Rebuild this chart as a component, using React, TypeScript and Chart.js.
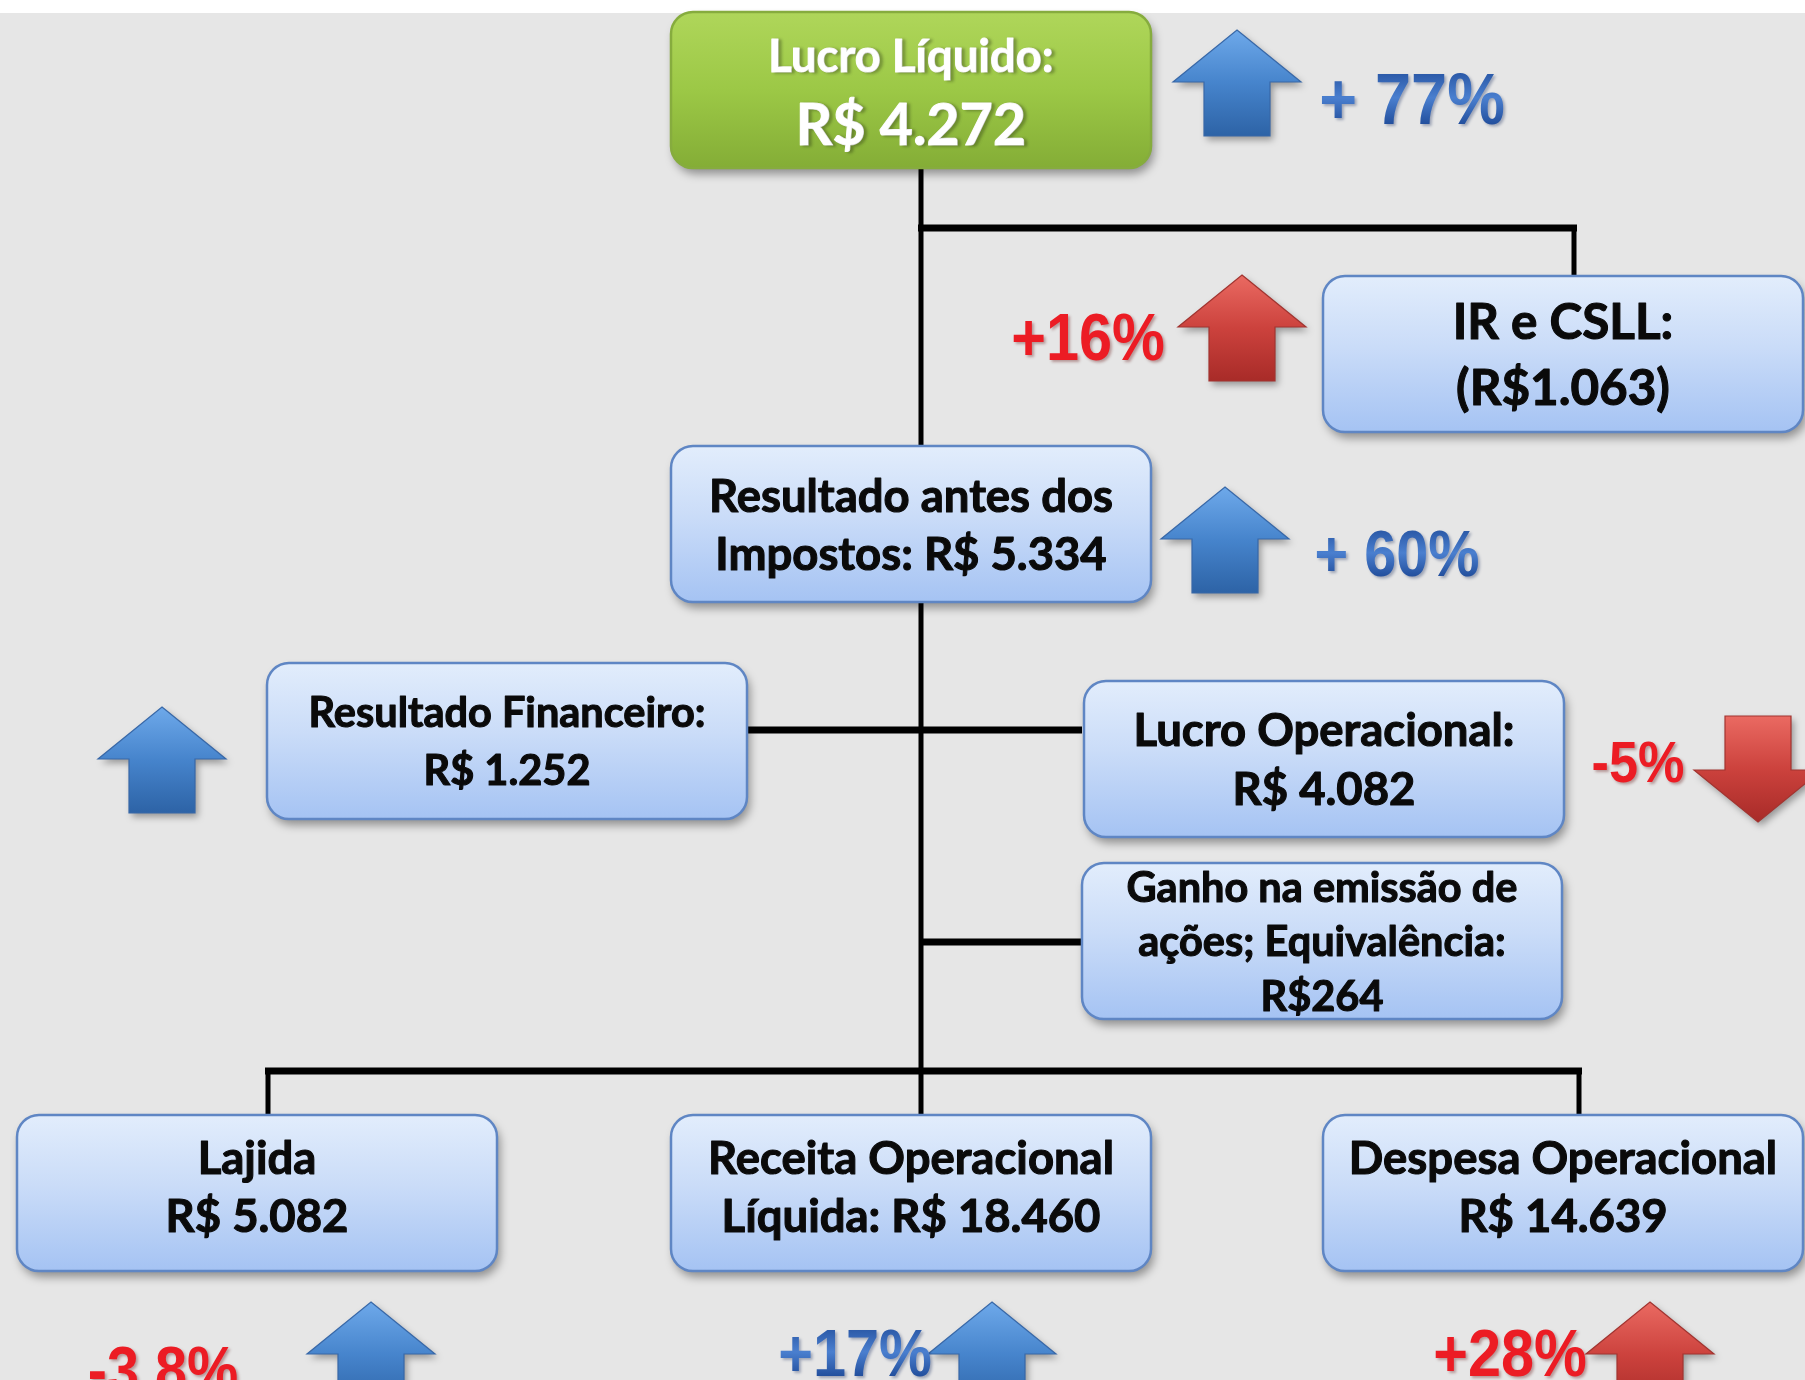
import React, { useEffect, useRef } from "react";
import { Chart, registerables } from "chart.js";

Chart.register(...registerables);

// ---------------- DATA ----------------
const nodeLabels: string[][] = [
  ["Lucro Líquido:", "R$ 4.272"],
  ["IR e CSLL:", "(R$1.063)"],
  ["Resultado antes dos", "Impostos: R$ 5.334"],
  ["Resultado Financeiro:", "R$ 1.252"],
  ["Lucro Operacional:", "R$ 4.082"],
  ["Ganho na emissão de", "ações; Equivalência:", "R$264"],
  ["Lajida", "R$ 5.082"],
  ["Receita Operacional", "Líquida: R$ 18.460"],
  ["Despesa Operacional", "R$ 14.639"],
];
// node centres in layout units
const nodeX = [911, 1563, 911, 507, 1324, 1322, 257, 911, 1563];
const nodeY = [90, 354, 524, 741, 759, 941, 1193, 1193, 1193];

const changeText = ["+ 77%", "+16%", "+ 60%", "", "-5%", "", "-3.8%", "+17%", "+28%"];
const changeTone = ["blue", "red", "blue", "", "red", "", "red", "blue", "red"];
const arrowDir = [1, 1, 1, 1, -1, 0, 1, 1, 1];
const arrowTone = ["blue", "red", "blue", "blue", "red", "", "blue", "blue", "red"];

// ---------------- LAYOUT (layout units = scale units) ----------------
const arrowX = [1237, 1242, 1225, 162, 1758, 0, 371, 992, 1650];
const arrowY = [83, 328, 540, 760, 769, 0, 1355, 1355, 1355];
const pctX = [1412, 1088, 1397, 0, 1638, 0, 163, 855, 1510];
const pctY = [98, 336, 553, 0, 761, 0, 1369, 1352, 1352];
const pctSize = [72, 66, 64, 0, 58, 0, 64, 66, 66];

const nodeFont: number[][] = [
  [46, 58],
  [50, 50],
  [46, 46],
  [42, 42],
  [46, 46],
  [42, 42, 42],
  [46, 46],
  [46, 46],
  [46, 46],
];
const nodeLineH = [69, 66, 58, 58, 59, 54.5, 58, 58, 58];
const nodeTextDy = [0, 0, 0, 0, 0, 0, -7, -7, -7];

// connectors: [x1,y1,x2,y2,width]
const busX1 = [921, 918, 1574, 748, 921, 265, 268, 1579];
const busY1 = [165, 228, 228, 730, 942, 1071, 1071, 1071];
const busX2 = [921, 1577, 1574, 1082, 1082, 1582, 268, 1579];
const busY2 = [1114, 228, 276, 730, 942, 1071, 1114, 1114];
const busW = [5, 7, 5, 7, 7, 7, 5, 5];

const BOX_W = 480;
const BOX_H = 156;
const BOX_R = 22;
const ARROW_W = 128;
const ARROW_H = 106;
const ARROW_HEAD = 52;
const ARROW_SHAFT = 66;
const REF_TEXT = "Resultado antes dos";
const REF_TEXT_W = 404;
const PCT_SQUEEZE = 0.9;
const BOX_FONT = "Lato, 'Open Sans', sans-serif";
const PCT_FONT = "'Liberation Sans', Arial, sans-serif";

function roundRect(ctx: CanvasRenderingContext2D, x: number, y: number, w: number, h: number, r: number) {
  ctx.beginPath();
  ctx.moveTo(x + r, y);
  ctx.arcTo(x + w, y, x + w, y + h, r);
  ctx.arcTo(x + w, y + h, x, y + h, r);
  ctx.arcTo(x, y + h, x, y, r);
  ctx.arcTo(x, y, x + w, y, r);
  ctx.closePath();
}

const diagramPlugin = {
  id: "diagram",
  beforeDraw(chart: any) {
    const ctx: CanvasRenderingContext2D = chart.ctx;
    const xs = chart.scales.x;
    const ys = chart.scales.y;
    ctx.save();
    ctx.fillStyle = "#ffffff";
    ctx.fillRect(0, 0, chart.width, chart.height);
    const top = ys.getPixelForValue(13);
    ctx.fillStyle = "#e6e6e6";
    ctx.fillRect(xs.getPixelForValue(0), top, xs.getPixelForValue(1805) - xs.getPixelForValue(0), ys.getPixelForValue(1380) - top);
    ctx.restore();
  },
  afterDatasetsDraw(chart: any) {
    const ctx: CanvasRenderingContext2D = chart.ctx;
    const xs = chart.scales.x;
    const ys = chart.scales.y;
    const sx = (v: number) => xs.getPixelForValue(v);
    const sy = (v: number) => ys.getPixelForValue(v);
    const kx = sx(1) - sx(0);
    const ky = sy(1) - sy(0);

    // text squeeze calibration
    ctx.save();
    ctx.font = `bold ${46 * ky}px ${BOX_FONT}`;
    const squeeze = (REF_TEXT_W * kx) / ctx.measureText(REF_TEXT).width;
    ctx.restore();

    // boxes
    nodeLabels.forEach((lines, i) => {
      const x = sx(nodeX[i] - BOX_W / 2);
      const y = sy(nodeY[i] - BOX_H / 2);
      const w = BOX_W * kx;
      const h = BOX_H * ky;
      const green = i === 0;
      ctx.save();
      const g = ctx.createLinearGradient(0, y, 0, y + h);
      if (green) {
        g.addColorStop(0, "#afd65a");
        g.addColorStop(0.5, "#9cc846");
        g.addColorStop(1, "#84ad36");
      } else {
        g.addColorStop(0, "#e2edfc");
        g.addColorStop(0.45, "#cadcf8");
        g.addColorStop(1, "#a5c3f3");
      }
      ctx.shadowColor = "rgba(0,0,0,0.38)";
      ctx.shadowBlur = 10;
      ctx.shadowOffsetX = 3;
      ctx.shadowOffsetY = 6;
      roundRect(ctx, x, y, w, h, BOX_R * kx);
      ctx.fillStyle = g;
      ctx.fill();
      ctx.shadowColor = "transparent";
      ctx.lineWidth = 2.5;
      ctx.strokeStyle = green ? "#86ac3e" : "#5f86c4";
      ctx.stroke();

      // text
      const col = green ? "#ffffff" : "#0a0a0a";
      ctx.fillStyle = col;
      ctx.strokeStyle = col;
      ctx.textAlign = "center";
      ctx.textBaseline = "alphabetic";
      const n = lines.length;
      lines.forEach((t, j) => {
        const fs = nodeFont[i][j] * ky;
        const cy = sy(nodeY[i] + nodeTextDy[i] + (j - (n - 1) / 2) * nodeLineH[i]);
        ctx.save();
        ctx.font = `bold ${fs}px ${BOX_FONT}`;
        ctx.translate(sx(nodeX[i]), cy + fs * 0.36);
        ctx.scale(squeeze, 1);
        if (green) {
          ctx.shadowColor = "rgba(0,0,0,0.25)";
          ctx.shadowBlur = 3;
          ctx.shadowOffsetY = 1;
        }
        ctx.lineWidth = 1.1;
        ctx.lineJoin = "round";
        ctx.strokeText(t, 0, 0);
        ctx.fillText(t, 0, 0);
        ctx.restore();
      });
      ctx.restore();
    });

    // arrows
    arrowDir.forEach((d, i) => {
      if (!d) return;
      const cx = sx(arrowX[i]);
      const hw = (ARROW_W / 2) * kx;
      const sw = (ARROW_SHAFT / 2) * kx;
      const top = sy(arrowY[i] - ARROW_H / 2);
      const bot = sy(arrowY[i] + ARROW_H / 2);
      const head = ARROW_HEAD * ky;
      ctx.save();
      ctx.beginPath();
      if (d > 0) {
        ctx.moveTo(cx, top);
        ctx.lineTo(cx + hw, top + head);
        ctx.lineTo(cx + sw, top + head);
        ctx.lineTo(cx + sw, bot);
        ctx.lineTo(cx - sw, bot);
        ctx.lineTo(cx - sw, top + head);
        ctx.lineTo(cx - hw, top + head);
      } else {
        ctx.moveTo(cx, bot);
        ctx.lineTo(cx + hw, bot - head);
        ctx.lineTo(cx + sw, bot - head);
        ctx.lineTo(cx + sw, top);
        ctx.lineTo(cx - sw, top);
        ctx.lineTo(cx - sw, bot - head);
        ctx.lineTo(cx - hw, bot - head);
      }
      ctx.closePath();
      const g = ctx.createLinearGradient(0, top, 0, bot);
      if (arrowTone[i] === "blue") {
        g.addColorStop(0, "#6ea9ea");
        g.addColorStop(0.5, "#4684cc");
        g.addColorStop(1, "#2d63a6");
      } else {
        g.addColorStop(0, "#ea6a62");
        g.addColorStop(0.5, "#cc423d");
        g.addColorStop(1, "#a82b28");
      }
      ctx.shadowColor = "rgba(0,0,0,0.35)";
      ctx.shadowBlur = 7;
      ctx.shadowOffsetX = 3;
      ctx.shadowOffsetY = 4;
      ctx.fillStyle = g;
      ctx.fill();
      ctx.shadowColor = "transparent";
      ctx.lineWidth = 1.2;
      ctx.strokeStyle = arrowTone[i] === "blue" ? "#3868a8" : "#a23430";
      ctx.stroke();
      ctx.restore();
    });

    // percentages
    changeText.forEach((t, i) => {
      if (!t) return;
      const fs = pctSize[i] * ky;
      const cx = sx(pctX[i]);
      const cy = sy(pctY[i]);
      ctx.save();
      ctx.font = `bold ${fs}px ${PCT_FONT}`;
      ctx.textAlign = "center";
      ctx.textBaseline = "alphabetic";
      ctx.translate(cx, cy + fs * 0.358);
      ctx.scale(PCT_SQUEEZE, 1);
      if (changeTone[i] === "blue") {
        const g = ctx.createLinearGradient(0, -fs * 0.72, 0, 0);
        g.addColorStop(0, "#2a58a6");
        g.addColorStop(0.5, "#4a7fcf");
        g.addColorStop(1, "#23509e");
        ctx.fillStyle = g;
        ctx.shadowColor = "rgba(20,40,90,0.35)";
      } else {
        ctx.fillStyle = "#ec1c24";
        ctx.shadowColor = "rgba(90,0,0,0.35)";
      }
      ctx.shadowBlur = 3;
      ctx.shadowOffsetX = 2;
      ctx.shadowOffsetY = 2;
      ctx.fillText(t, 0, 0);
      ctx.restore();
    });
  },
};

export default function App() {
  const ref = useRef<HTMLCanvasElement | null>(null);
  useEffect(() => {
    document.body.style.margin = "0";
    const canvas = ref.current;
    if (!canvas) return;
    const connectorSets = busX1.map((x1, i) => ({
      data: [
        { x: x1, y: busY1[i] },
        { x: busX2[i], y: busY2[i] },
      ],
      showLine: true,
      borderColor: "#000000",
      backgroundColor: "#000000",
      borderWidth: busW[i],
      pointRadius: 0,
      tension: 0,
    }));
    const nodeSet = {
      data: nodeX.map((x, i) => ({ x, y: nodeY[i] })),
      showLine: false,
      pointRadius: 0,
      borderColor: "transparent",
      backgroundColor: "transparent",
    };
    const chart = new Chart(canvas, {
      type: "scatter",
      data: { datasets: [...connectorSets, nodeSet] as any },
      options: {
        animation: false,
        responsive: false,
        events: [],
        layout: { padding: 0 },
        plugins: { legend: { display: false }, tooltip: { enabled: false } },
        scales: {
          x: { type: "linear", min: 0, max: 1805, display: false },
          y: { type: "linear", min: 0, max: 1380, reverse: true, display: false },
        },
      } as any,
      plugins: [diagramPlugin as any],
    });
    return () => chart.destroy();
  }, []);
  return <canvas ref={ref} width={1805} height={1380} style={{ display: "block" }} />;
}
